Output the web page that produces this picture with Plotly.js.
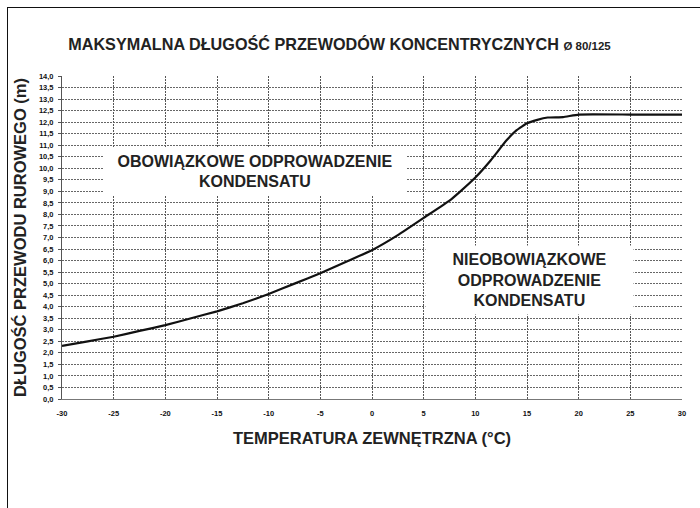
<!DOCTYPE html>
<html>
<head>
<meta charset="utf-8">
<script src="https://cdn.plot.ly/plotly-3.0.1.min.js"></script>
<style>
html,body{margin:0;padding:0;background:#fff;}
#wrap{position:relative;width:700px;height:508px;}
#chart{position:absolute;left:0;top:0;width:700px;height:508px;}
#frame{position:absolute;left:7px;top:7px;width:700px;height:510px;border-left:1.5px solid #111;border-top:1.5px solid #111;pointer-events:none;}
</style>
</head>
<body>
<div id="wrap"><div id="chart"></div><div id="frame"></div></div>
<script>
// Data
const temperature = [-30, -27.5, -25, -22.5, -20, -17.5, -15, -12.5, -10, -7.5, -5, -2.5, 0, 2.5, 5, 7.5, 8.5, 10, 11.5, 13, 14, 15, 16, 17, 18.5, 20, 25, 30];
const maxLength   = [2.3, 2.5, 2.7, 2.95, 3.2, 3.5, 3.8, 4.15, 4.55, 5.0, 5.45, 5.95, 6.45, 7.1, 7.85, 8.6, 8.98, 9.6, 10.35, 11.2, 11.65, 11.95, 12.1, 12.2, 12.22, 12.33, 12.33, 12.33];
const xTicks = [-30, -25, -20, -15, -10, -5, 0, 5, 10, 15, 20, 25, 30];
const yTicks = [0,0.5,1,1.5,2,2.5,3,3.5,4,4.5,5,5.5,6,6.5,7,7.5,8,8.5,9,9.5,10,10.5,11,11.5,12,12.5,13,13.5,14];
const titleText = "MAKSYMALNA DŁUGOŚĆ PRZEWODÓW KONCENTRYCZNYCH <span style='font-size:11.5px'>Ø 80/125</span>";
const xTitle = "TEMPERATURA ZEWNĘTRZNA (°C)";
const yTitle = "DŁUGOŚĆ PRZEWODU RUROWEGO (m)";
const zone1Text = "OBOWIĄZKOWE ODPROWADZENIE<br>KONDENSATU";
const zone2Text = "NIEOBOWIĄZKOWE<br>ODPROWADZENIE<br>KONDENSATU";

const font = "Liberation Sans, Arial, sans-serif";

const trace = {
  x: temperature, y: maxLength, type: 'scatter', mode: 'lines',
  line: {color: '#111', width: 2.2, shape: 'spline', smoothing: 0.3},
  hoverinfo: 'skip', showlegend: false
};

const layout = {
  width: 700, height: 508,
  margin: {l: 62, r: 18, t: 75.5, b: 108.5},
  paper_bgcolor: '#fff', plot_bgcolor: '#fff',
  separators: ',.',
  font: {family: font, color: '#111'},
  title: {text: '<b>' + titleText + '</b>', font: {family: font, size: 16.2, color: '#222'},
          x: 0.485, xanchor: 'center', y: 0.912, yanchor: 'middle'},
  xaxis: {
    range: [-30, 30], tickvals: xTicks, ticktext: xTicks.map(String),
    showgrid: true, gridcolor: '#555', griddash: '2px,1px', gridwidth: 1,
    zeroline: false, showline: true, linecolor: '#777', linewidth: 1, mirror: false,
    ticks: '', tickfont: {family: font, size: 7.5, color: '#111', weight: 'bold'},
    ticklabelstandoff: 7,
    title: {text: '<b>' + xTitle + '</b>', font: {family: font, size: 16.5, color: '#222'}, standoff: 15}
  },
  yaxis: {
    range: [0, 14], tickvals: yTicks, tickformat: '.1f',
    showgrid: true, gridcolor: '#666', griddash: '2px,1px', gridwidth: 1,
    zeroline: false, showline: true, linecolor: '#555', linewidth: 1,
    ticks: 'outside', ticklen: 3, tickcolor: '#555', ticklabelstandoff: 3,
    tickfont: {family: font, size: 7.5, color: '#111', weight: 'bold'},
    title: {text: '<b>' + yTitle + '</b>', font: {family: font, size: 16.5, color: '#222'}, standoff: 8}
  },
  annotations: [
    {x: -11.3, y: 9.85, xref: 'x', yref: 'y', text: '<b>' + zone1Text + '</b>', showarrow: false,
     bgcolor: '#fff', width: 300, height: 45, font: {family: font, size: 16, color: '#222'}, align: 'center', valign: 'middle'},
    {x: 15.2, y: 5.15, xref: 'x', yref: 'y', text: '<b>' + zone2Text + '</b>', showarrow: false,
     bgcolor: '#fff', width: 205, height: 66, font: {family: font, size: 16, color: '#222'}, align: 'center', valign: 'middle'}
  ]
};

Plotly.newPlot('chart', [trace], layout, {displayModeBar: false, staticPlot: true});
</script>
</body>
</html>
